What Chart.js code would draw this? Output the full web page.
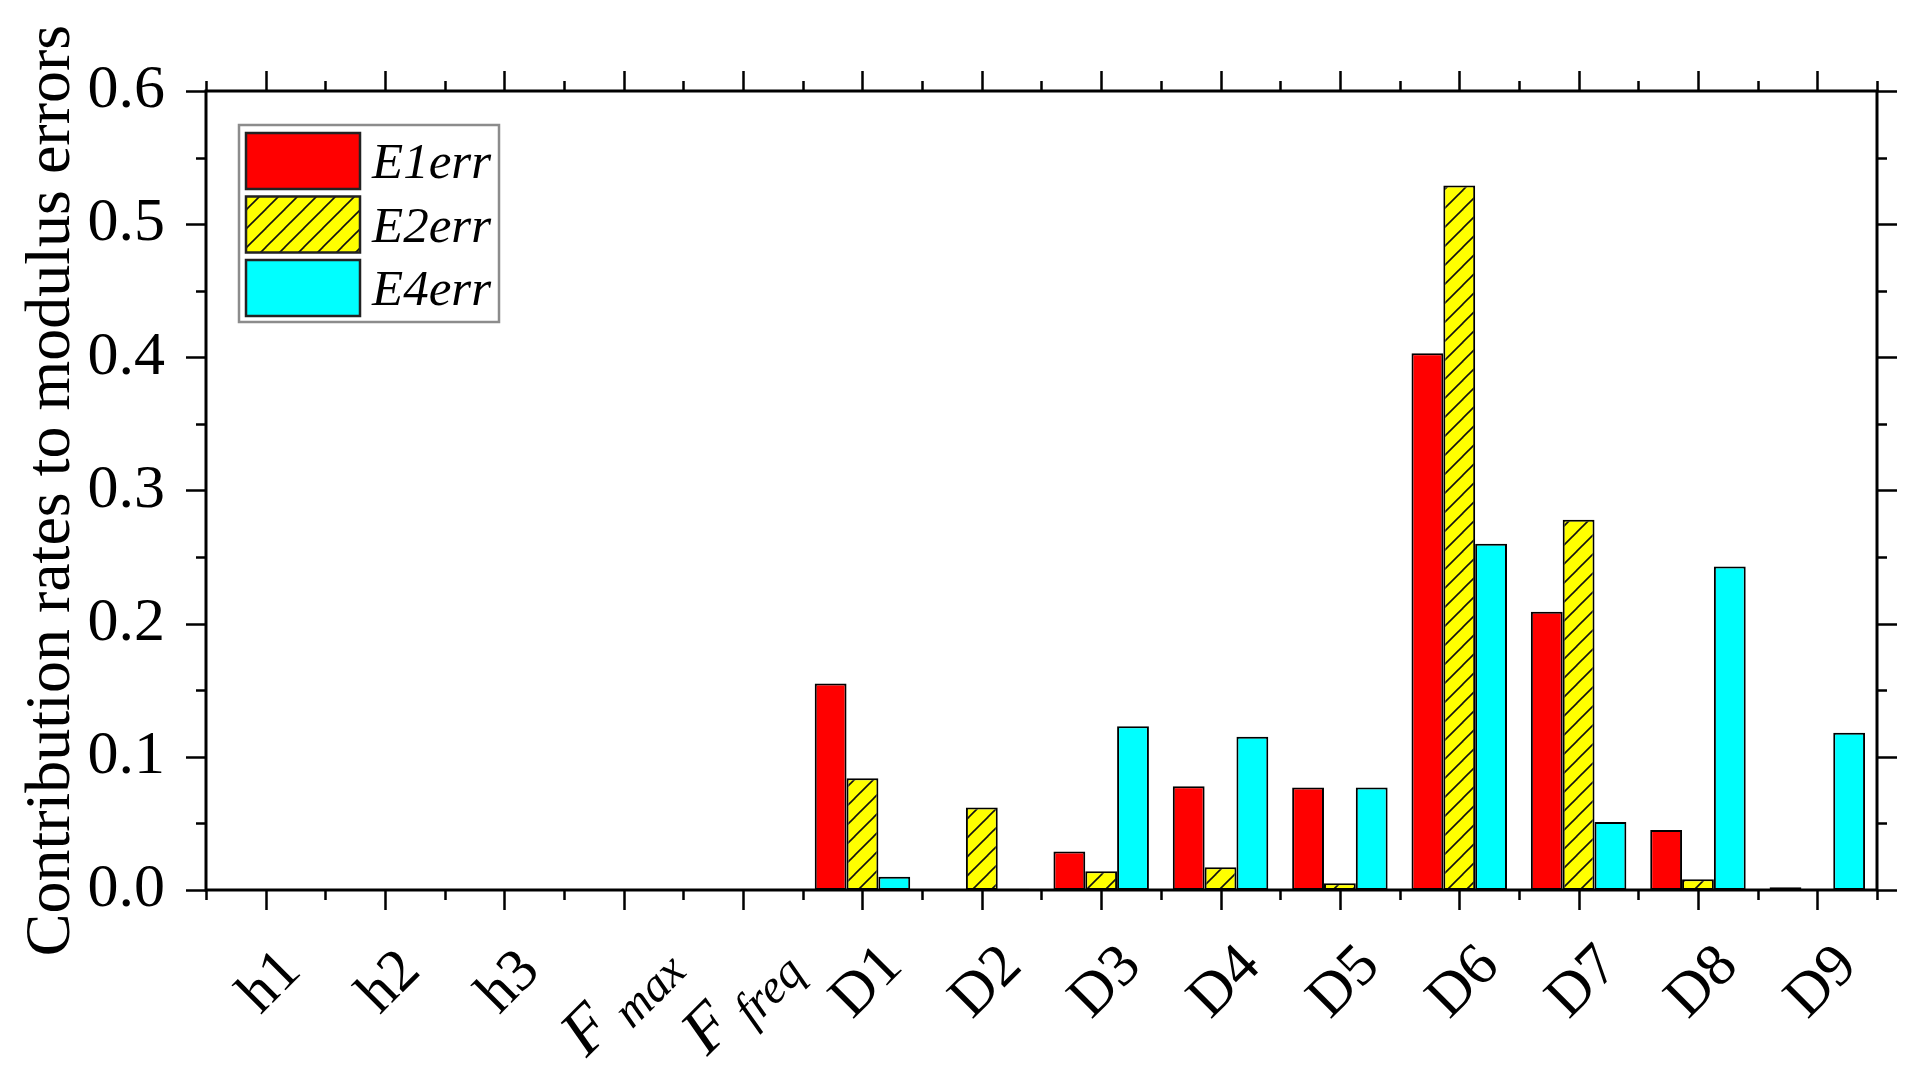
<!DOCTYPE html>
<html><head><meta charset="utf-8">
<script src="https://cdn.jsdelivr.net/npm/chart.js@4/dist/chart.umd.min.js"></script>
<style>html,body{margin:0;padding:0;background:#fff;overflow:hidden}#wrap{width:1925px;height:1076px}</style>
</head><body><div id="wrap"><canvas id="c" width="1925" height="1076"></canvas></div>
<script>
// ---- data ----
const labelMain = ['h1','h2','h3','F','F','D1','D2','D3','D4','D5','D6','D7','D8','D9'];
const labelSub  = ['','','','max','freq','','','','','','','','',''];
const categories = labelMain.map((m,i)=> labelSub[i] ? m + ' ' + labelSub[i] : m);
const seriesNames = ['E1err','E2err','E4err'];
const E1err = [0,0,0,0,0,0.155,0,0.029,0.078,0.077,0.403,0.209,0.045,0.002];
const E2err = [0,0,0,0,0,0.084,0.062,0.014,0.017,0.005,0.529,0.278,0.008,0];
const E4err = [0,0,0,0,0,0.010,0.001,0.123,0.115,0.077,0.260,0.051,0.243,0.118];
const yTicks = [0,0.1,0.2,0.3,0.4,0.5,0.6];
const yTitle = 'Contribution rates to modulus errors';

const canvas = document.getElementById('c');
const ctx = canvas.getContext('2d');

function hatchPattern(){
  const s = 19;
  const c = document.createElement('canvas'); c.width = s; c.height = s;
  const g = c.getContext('2d');
  g.fillStyle = '#ffff00'; g.fillRect(0,0,s,s);
  g.strokeStyle = '#111'; g.lineWidth = 1.6;
  for (const o of [-s,0,s]) { g.beginPath(); g.moveTo(o-1, s+1); g.lineTo(o+s+1, -1); g.stroke(); }
  return ctx.createPattern(c,'repeat');
}
const yellowHatch = hatchPattern();

const SERIF = '"Liberation Serif","Times New Roman",serif';

const framePlugin = {
  id: 'frame',
  afterDraw(chart){
    const {ctx, chartArea: a, scales:{x, y}} = chart;
    ctx.save();
    ctx.strokeStyle = '#000';
    ctx.lineWidth = 3;
    ctx.strokeRect(a.left, a.top, a.right - a.left, a.bottom - a.top);
    ctx.lineWidth = 2.5;
    for (let k = 0; k <= 12; k++) {
      const v = k * 0.05;
      const py = Math.round(y.getPixelForValue(v)) + 0.5;
      const len = (k % 2 === 0) ? 20 : 10;
      ctx.beginPath();
      ctx.moveTo(a.left, py); ctx.lineTo(a.left - len, py);
      ctx.moveTo(a.right, py); ctx.lineTo(a.right + len, py);
      ctx.stroke();
    }
    const n = categories.length;
    const half = (x.getPixelForValue(1) - x.getPixelForValue(0)) / 2;
    for (let i = 0; i < n; i++) {
      const px = Math.round(x.getPixelForValue(i)) + 0.5;
      ctx.beginPath();
      ctx.moveTo(px, a.bottom); ctx.lineTo(px, a.bottom + 20);
      ctx.moveTo(px, a.top); ctx.lineTo(px, a.top - 20);
      ctx.stroke();
    }
    for (let i = 0; i <= n; i++) {
      const px = Math.round(x.getPixelForValue(0) - half + 2 * half * i) + 0.5;
      ctx.beginPath();
      ctx.moveTo(px, a.bottom); ctx.lineTo(px, a.bottom + 10);
      ctx.moveTo(px, a.top); ctx.lineTo(px, a.top - 10);
      ctx.stroke();
    }
    ctx.fillStyle = '#000';
    const S = 60, SF = 66, SS = 48;
    for (let i = 0; i < n; i++) {
      const px = x.getPixelForValue(i) + 2;
      const hasSub = labelSub[i] !== '';
      ctx.save();
      ctx.translate(px, hasSub ? 1004 : 980);
      ctx.rotate(-Math.PI / 4);
      const mainFont = hasSub ? ('italic ' + SF + 'px ' + SERIF) : (S + 'px ' + SERIF);
      const subFont = 'italic ' + SS + 'px ' + SERIF;
      ctx.font = mainFont;
      const wMain = ctx.measureText(labelMain[i]).width;
      let wSub = 0, gap = 0;
      if (hasSub) { ctx.font = subFont; wSub = ctx.measureText(labelSub[i]).width; gap = 12; }
      const total = wMain + gap + wSub;
      const sx = -total / 2;
      const capH = (hasSub ? SF : S) * 0.66;
      const subDrop = hasSub ? 12 : 0;
      const top = -capH, bottom = hasSub ? subDrop + SS * 0.22 : 0;
      const base = -(top + bottom) / 2;
      ctx.textBaseline = 'alphabetic';
      ctx.textAlign = 'left';
      ctx.font = mainFont;
      ctx.fillText(labelMain[i], sx, base);
      if (hasSub) {
        ctx.font = subFont;
        ctx.fillText(labelSub[i], sx + wMain + gap, base + subDrop);
      }
      ctx.restore();
    }
    ctx.save();
    ctx.translate(52, (a.top + a.bottom) / 2);
    ctx.rotate(-Math.PI / 2);
    ctx.font = '64px ' + SERIF;
    ctx.textAlign = 'center';
    ctx.textBaseline = 'middle';
    ctx.fillText(yTitle, 0, 0);
    ctx.restore();
    const lx = 239, ly = 125, lw = 260, lh = 197;
    ctx.fillStyle = '#fff';
    ctx.fillRect(lx, ly, lw, lh);
    ctx.strokeStyle = '#8c8c8c';
    ctx.lineWidth = 2.5;
    ctx.strokeRect(lx, ly, lw, lh);
    chart.data.datasets.forEach((ds, k) => {
      const sy = 133 + k * 63.5;
      ctx.fillStyle = ds.backgroundColor;
      ctx.fillRect(246, sy, 114, 56);
      ctx.strokeStyle = '#222';
      ctx.lineWidth = 2.5;
      ctx.strokeRect(246, sy, 114, 56);
      ctx.fillStyle = '#000';
      ctx.font = 'italic 51px ' + SERIF;
      ctx.textAlign = 'left';
      ctx.textBaseline = 'alphabetic';
      ctx.fillText(ds.label, 372, sy + 45);
    });
    ctx.restore();
  }
};

new Chart(ctx, {
  type: 'bar',
  data: {
    labels: categories,
    datasets: [
      { label: seriesNames[0], data: E1err, backgroundColor: '#ff0000', borderColor: '#000', borderWidth: 2 },
      { label: seriesNames[1], data: E2err, backgroundColor: yellowHatch, borderColor: '#000', borderWidth: 2 },
      { label: seriesNames[2], data: E4err, backgroundColor: '#00ffff', borderColor: '#000', borderWidth: 2 }
    ]
  },
  options: {
    responsive: false,
    animation: false,
    devicePixelRatio: 1,
    layout: { padding: { top: 91, right: 48, left: 0, bottom: 0 } },
    plugins: { legend: { display: false }, tooltip: { enabled: false } },
    datasets: { bar: { categoryPercentage: 0.8, barPercentage: 1.0, borderSkipped: false } },
    scales: {
      x: {
        type: 'category', offset: true,
        grid: { display: false }, border: { display: false },
        ticks: { display: false },
        afterFit(s) { s.height = 186; }
      },
      y: {
        min: 0, max: 0.6,
        afterBuildTicks(s) { s.ticks = yTicks.map(v => ({ value: v })); },
        ticks: {
          callback: v => Number(v).toFixed(1),
          font: { family: SERIF, size: 62 }, color: '#000', padding: 33
        },
        grid: { display: false }, border: { display: false },
        afterFit(s) { s.width = 206; }
      }
    }
  },
  plugins: [framePlugin]
});
</script>
</body></html>
